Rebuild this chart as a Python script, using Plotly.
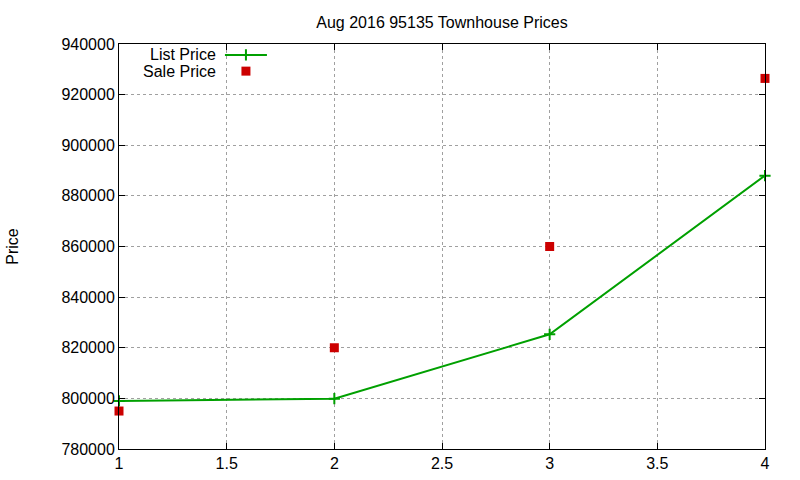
import plotly.graph_objects as go

x_vals = [1, 2, 3, 4]
list_price = [799000, 799900, 825300, 888000]
sale_price = [795000, 820000, 860000, 926400]
x_ticks = [1, 1.5, 2, 2.5, 3, 3.5, 4]
x_tick_text = ["1", "1.5", "2", "2.5", "3", "3.5", "4"]
y_ticks = [780000, 800000, 820000, 840000, 860000, 880000, 900000, 920000, 940000]
y_tick_text = [str(v) for v in y_ticks]

GREEN = "#00a000"
RED = "#cc0000"
FONT = "Liberation Sans, Arial, sans-serif"
FS = 16

fig = go.Figure()
fig.add_trace(go.Scatter(
    x=x_vals, y=list_price, mode="lines+markers", name="List Price",
    line=dict(color=GREEN, width=2),
    marker=dict(symbol="cross-thin", size=8, line=dict(color=GREEN, width=2)),
    cliponaxis=False, showlegend=False))
fig.add_trace(go.Scatter(
    x=x_vals, y=sale_price, mode="markers", name="Sale Price",
    marker=dict(symbol="square", size=9, color=RED),
    cliponaxis=False, showlegend=False))

# legend keys on overlay paper-like axis
fig.add_trace(go.Scatter(
    x=[0.164, 0.229], y=[0.973, 0.973], mode="lines", xaxis="x2", yaxis="y2",
    line=dict(color=GREEN, width=2), showlegend=False, hoverinfo="skip"))
fig.add_trace(go.Scatter(
    x=[0.1965], y=[0.973], mode="markers", xaxis="x2", yaxis="y2",
    marker=dict(symbol="cross-thin", size=8, line=dict(color=GREEN, width=2)),
    showlegend=False, hoverinfo="skip"))
fig.add_trace(go.Scatter(
    x=[0.1965], y=[0.933], mode="markers", xaxis="x2", yaxis="y2",
    marker=dict(symbol="square", size=9, color=RED),
    showlegend=False, hoverinfo="skip"))

axis_common = dict(
    showline=True, linecolor="black", linewidth=1, mirror="allticks",
    ticks="inside", ticklen=6, tickcolor="black", automargin=False,
    showgrid=True, gridcolor="#a0a0a0", griddash="dot", gridwidth=1,
    zeroline=False, tickfont=dict(family=FONT, size=FS, color="black"))

fig.update_layout(
    width=800, height=480,
    margin=dict(l=119, r=35, t=44, b=31, autoexpand=False),
    paper_bgcolor="white", plot_bgcolor="white",
    font=dict(family=FONT, size=FS, color="black"),
    title=dict(text="Aug 2016 95135 Townhouse Prices", x=0.5525, xanchor="center",
               y=0.953, yanchor="middle", font=dict(family=FONT, size=FS)),
    xaxis=dict(range=[1, 4], tickvals=x_ticks, ticktext=x_tick_text, **axis_common),
    yaxis=dict(range=[780000, 940000], tickvals=y_ticks, ticktext=y_tick_text,
               title=dict(text="Price", standoff=38, font=dict(family=FONT, size=FS)),
               **axis_common),
    xaxis2=dict(range=[0, 1], overlaying="x", visible=False, showgrid=False),
    yaxis2=dict(range=[0, 1], overlaying="y", visible=False, showgrid=False),
    annotations=[
        dict(text="List Price", xref="paper", yref="paper", x=0.153, y=0.973,
             xanchor="right", yanchor="middle", showarrow=False,
             font=dict(family=FONT, size=FS)),
        dict(text="Sale Price", xref="paper", yref="paper", x=0.153, y=0.933,
             xanchor="right", yanchor="middle", showarrow=False,
             font=dict(family=FONT, size=FS)),
    ],
)

fig.write_html("out.html")
